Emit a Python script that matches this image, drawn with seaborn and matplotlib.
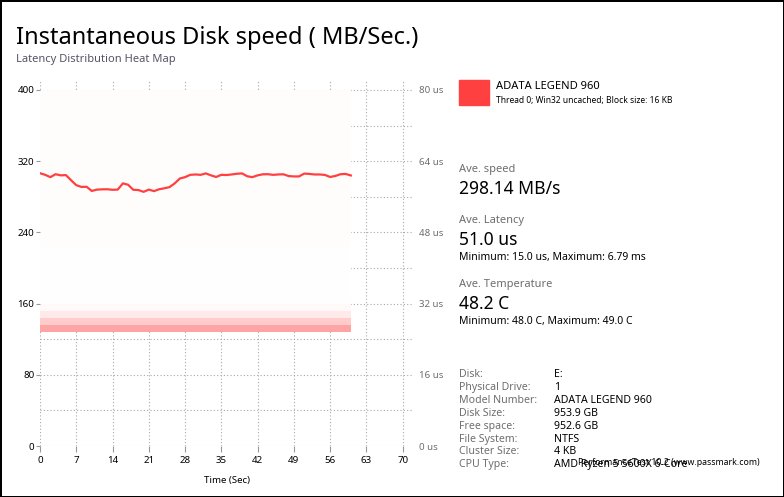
import numpy as np
import pandas as pd
import matplotlib
matplotlib.use("Agg")
import matplotlib.pyplot as plt
from matplotlib.colors import LinearSegmentedColormap
from matplotlib.ticker import MultipleLocator, FuncFormatter
import seaborn as sns

# ---------------- data ----------------
time_sec = list(range(0, 61))
speed_mbs = [306.4, 304.6, 302.0, 305.3, 304.0, 304.3, 298.5, 293.0, 291.0, 291.2,
             286.5, 288.0, 288.3, 288.4, 287.8, 288.0, 295.0, 293.5, 287.8, 287.5,
             285.5, 288.0, 286.3, 288.4, 289.5, 290.8, 295.0, 300.5, 302.0, 304.6,
             305.0, 304.6, 306.2, 304.0, 302.2, 304.6, 304.4, 305.0, 305.8, 306.2,
             303.0, 302.0, 304.0, 305.2, 305.3, 304.6, 305.0, 305.2, 303.2, 302.8,
             302.8, 306.0, 305.6, 305.0, 305.0, 304.5, 302.2, 303.3, 305.3, 305.6,
             303.9]

# latency heat map (rows = latency bands in us, share of IOs)
heat_time_edges = [0, 60]
heat_lat_edges = [25.6, 27.2, 28.8, 30.4, 32.0, 44.8, 80.0]
heat_share = [0.48, 0.27, 0.12, 0.035, 0.01, 0.016]

x_ticks = [0, 7, 14, 21, 28, 35, 42, 49, 56, 63, 70]
speed_ticks = [0, 80, 160, 240, 320, 400]
latency_ticks = [0, 16, 32, 48, 64, 80]

title = "Instantaneous Disk speed ( MB/Sec.)"
subtitle = "Latency Distribution Heat Map"
series_name = "ADATA LEGEND 960"
series_desc = "Thread 0; Win32 uncached; Block size: 16 KB"
stats = [("Ave. speed", "298.14 MB/s", None),
         ("Ave. Latency", "51.0 us", "Minimum: 15.0 us, Maximum: 6.79 ms"),
         ("Ave. Temperature", "48.2 C", "Minimum: 48.0 C, Maximum: 49.0 C")]
info_labels = ["Disk:", "Physical Drive:", "Model Number:", "Disk Size:", "Free space:",
               "File System:", "Cluster Size:", "CPU Type:"]
info_values = ["E:", "1", "ADATA LEGEND 960", "953.9 GB", "952.6 GB", "NTFS", "4 KB",
               "AMD Ryzen 5 5600X 6-Core"]
footer = "PerformanceTest 10.2 (www.passmark.com)"

# ---------------- style ----------------
FONT = ["Noto Sans", "DejaVu Sans"]
plt.rcParams["font.family"] = FONT
RED = "#ff4040"
GRID = "#a8a8a8"
GREY_TXT = "#6e6e6e"

W, H = 784, 497
fig = plt.figure(figsize=(W / 100, H / 100), dpi=100, facecolor="white",
                 edgecolor="black", linewidth=2)

def fx(px):
    return px / W

def fy(py):
    return 1 - py / H

ax = fig.add_axes([fx(40), fy(446), fx(373), 365 / H])   # latency axis (grid + heat map)
ax.set_xlim(0, 72)
ax.set_ylim(0, 82)
for s in ax.spines.values():
    s.set_visible(False)

# speed axis (left) for the line
ax2 = ax.twinx()
ax2.set_ylim(0, 410)
for s in ax2.spines.values():
    s.set_visible(False)

# grid / ticks on the latency axis (right side)
ax.set_axisbelow(True)
ax.set_xticks(x_ticks)
ax.yaxis.tick_right()
ax.yaxis.set_label_position("right")
ax.set_yticks(latency_ticks)
ax.yaxis.set_minor_locator(MultipleLocator(8))
ax.yaxis.set_major_formatter(FuncFormatter(lambda v, p: f"{int(v)} us"))
ax.grid(True, which="major", axis="x", color=GRID, linestyle=(0, (1, 2)), linewidth=0.8)
ax.grid(True, which="both", axis="y", color=GRID, linestyle=(0, (1, 2)), linewidth=0.8)
ax.tick_params(axis="y", which="both", left=False, right=False, labelleft=False,
               labelright=True, length=0, pad=4, labelsize=7, labelcolor=GREY_TXT)
ax.tick_params(axis="x", length=4, width=0.8, color="#999999", labelsize=7, pad=3,
               labelcolor="black")

# heat map
cmap = LinearSegmentedColormap.from_list("heat", ["#ffffff", RED])
Z = np.array(heat_share).reshape(-1, 1) * np.ones((1, len(heat_time_edges) - 1))
ax.pcolormesh(heat_time_edges, heat_lat_edges, Z, cmap=cmap, vmin=0, vmax=1,
              shading="flat", zorder=1)

ax.set_xlabel("Time (Sec)", fontsize=7, labelpad=8)

# speed line
ax2.yaxis.tick_left()
ax2.set_yticks(speed_ticks)
ax2.tick_params(axis="y", left=True, right=False, labelleft=True, labelright=False,
                length=3, width=0.8, color="#999999", labelsize=7, pad=1)
df = pd.DataFrame({"t": time_sec, "speed": speed_mbs})
sns.lineplot(data=df, x="t", y="speed", ax=ax2, color=RED, linewidth=1.6)
ax2.set_ylabel("")
ax2.set_xlabel("")
ax.set_xlim(0, 72)
ax2.set_ylim(0, 410)

# ---------------- titles ----------------
fig.text(fx(16), fy(43.5), title, fontsize=17, color="black", va="baseline", ha="left")
fig.text(fx(16), fy(62.3), subtitle, fontsize=8, color="#555566", va="baseline", ha="left")

# ---------------- right panel ----------------
fig.patches.append(plt.Rectangle((fx(459), fy(104.5)), fx(30), 24.5 / H,
                                 transform=fig.transFigure, color=RED, figure=fig))
fig.text(fx(496), fy(89.3), series_name, fontsize=8, va="baseline")
fig.text(fx(496), fy(102.7), series_desc, fontsize=6.1, va="baseline")

stat_y = [(171.7, 194.0, None), (222.7, 245.0, 260.0), (286.7, 309.0, 324.3)]
for (lab, val, sub), (y1, y2, y3) in zip(stats, stat_y):
    fig.text(fx(459), fy(y1), lab, fontsize=8, color=GREY_TXT, va="baseline")
    fig.text(fx(459), fy(y2), val, fontsize=12.6, color="black", va="baseline")
    if sub:
        fig.text(fx(459), fy(y3), sub, fontsize=7.5, color="black", va="baseline")

for i, (lab, val) in enumerate(zip(info_labels, info_values)):
    y = 377.3 + i * 12.85
    fig.text(fx(459), fy(y), lab, fontsize=7.6, color=GREY_TXT, va="baseline")
    fig.text(fx(554), fy(y), val, fontsize=7.6, color="black", va="baseline")

fig.text(fx(578), fy(465), footer, fontsize=6.3, color="black", va="baseline")

fig.savefig("out.png", dpi=100, facecolor="white", edgecolor="black")
